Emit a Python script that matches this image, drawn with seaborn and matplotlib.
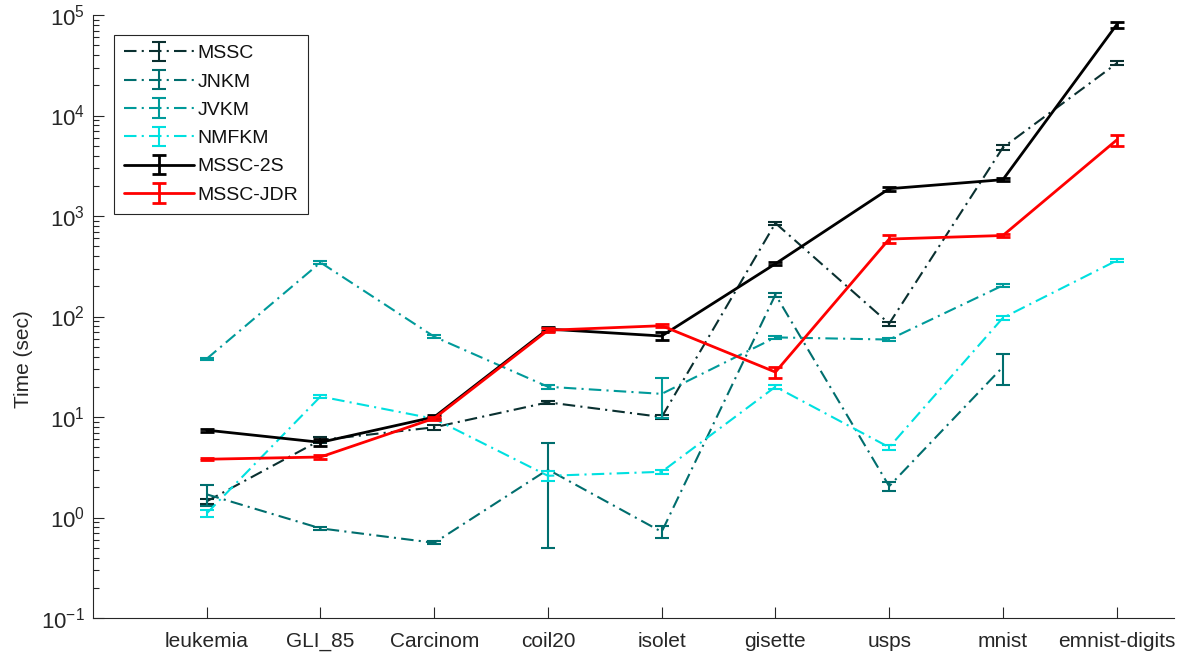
import numpy as np
import pandas as pd
import matplotlib
matplotlib.use("Agg")
import matplotlib.pyplot as plt
import seaborn as sns
from matplotlib.ticker import (LogLocator, FixedLocator, NullFormatter,
                               LogFormatterSciNotation)

# Datasets on the x axis
datasets = ["leukemia", "GLI_85", "Carcinom", "coil20", "isolet",
            "gisette", "usps", "mnist", "emnist-digits"]

# Mean running time (sec) per method; NaN = not run on that dataset
mssc = [1.45, 5.9, 7.9, 14.0, 10.0, 850.0, 85.0, 4800.0, 33000.0]
jnkm = [1.7, 0.78, 0.56, 3.0, 0.72, 165.0, 2.05, 31.5, np.nan]
jvkm = [38.0, 345.0, 63.0, 20.0, 17.0, 62.0, 59.0, 204.0, np.nan]
nmfkm = [1.1, 16.0, 9.6, 2.6, 2.85, 20.0, 5.0, 97.0, 360.0]
mssc_2s = [7.4, 5.6, 10.0, 75.0, 64.0, 335.0, 1870.0, 2300.0, 80000.0]
mssc_jdr = [3.8, 4.0, 9.7, 73.0, 81.0, 28.0, 590.0, 640.0, 5700.0]

# Standard deviations (sec)
mssc_err = [0.08, 0.4, 0.4, 0.5, 0.4, 30.0, 4.0, 250.0, 1500.0]
jnkm_err = [0.4, 0.03, 0.02, 2.5, 0.1, 8.0, 0.2, 10.5, np.nan]
jvkm_err = [1.0, 12.0, 2.0, 1.0, 7.2, 2.5, 2.0, 8.0, np.nan]
nmfkm_err = [0.08, 0.5, 0.3, 0.3, 0.12, 1.0, 0.25, 4.0, 10.0]
mssc_2s_err = [0.25, 0.5, 0.4, 4.0, 6.0, 12.0, 80.0, 80.0, 5000.0]
mssc_jdr_err = [0.1, 0.15, 0.3, 3.0, 3.0, 3.5, 50.0, 20.0, 700.0]

methods = ["MSSC", "JNKM", "JVKM", "NMFKM", "MSSC-2S", "MSSC-JDR"]
values = [mssc, jnkm, jvkm, nmfkm, mssc_2s, mssc_jdr]
errors = [mssc_err, jnkm_err, jvkm_err, nmfkm_err, mssc_2s_err, mssc_jdr_err]

# Decades shown on the time axis
decades = [1e-1, 1e0, 1e1, 1e2, 1e3, 1e4, 1e5]

colors = ["#0a3030", "#006e6e", "#009a9a", "#00e0e0", "#000000", "#ff0000"]
dashdot = (0, (6, 2.5, 1, 2.5))
styles = [dashdot, dashdot, dashdot, dashdot, "-", "-"]
widths = [1.5, 1.5, 1.5, 1.5, 2.0, 2.0]

xpos = np.arange(1, len(datasets) + 1)
frames = []
for name, v, e in zip(methods, values, errors):
    frames.append(pd.DataFrame({"method": name, "x": xpos,
                                "time": v, "err": e}))
df = pd.concat(frames, ignore_index=True)

sns.set_theme(style="ticks")
plt.rcParams["font.family"] = ["Liberation Sans", "DejaVu Sans"]
plt.rcParams["mathtext.default"] = "regular"

fig = plt.figure(figsize=(11.88, 6.59), dpi=100)
ax = fig.add_axes([0.0783, 0.0622, 0.9095, 0.915])
ax.set_yscale("log")

handles = []
for i, name in enumerate(methods):
    sub = df[df["method"] == name].dropna()
    sns.lineplot(data=sub, x="x", y="time", ax=ax, color=colors[i],
                 linestyle=styles[i], linewidth=widths[i], legend=False,
                 zorder=2 + i)
    ax.errorbar(sub["x"], sub["time"], yerr=sub["err"], fmt="none",
                ecolor=colors[i], elinewidth=widths[i], capsize=5,
                capthick=widths[i], zorder=2 + i)
    # legend proxy carrying both the line style and the error bar
    h = ax.errorbar([np.nan], [np.nan], yerr=[1.0], color=colors[i],
                    linestyle=styles[i], linewidth=widths[i],
                    elinewidth=widths[i], capsize=5, capthick=widths[i],
                    label=name)
    handles.append(h)

ax.set_xlim(0, 9.5)
ax.set_ylim(decades[0], decades[-1])
ax.xaxis.set_major_locator(FixedLocator(xpos))
ax.set_xticklabels(datasets)
ax.yaxis.set_major_locator(FixedLocator(decades))
ax.yaxis.set_major_formatter(LogFormatterSciNotation())
ax.yaxis.set_minor_locator(LogLocator(base=10, subs=np.arange(2, 10),
                                      numticks=20))
ax.yaxis.set_minor_formatter(NullFormatter())

ax.set_xlabel("")
ax.xaxis.label.set_visible(False)
ax.set_ylabel("Time (sec)", fontsize=15, color="#262626")
ax.yaxis.set_label_coords(-0.056, 0.43)

ax.tick_params(axis="both", which="major", direction="in", length=8,
               width=0.8, color="#262626", labelcolor="#262626",
               labelsize=15)
ax.tick_params(axis="y", which="minor", direction="in", length=4.5,
               width=0.8, color="#262626")
ax.tick_params(axis="y", which="major", labelsize=16, pad=6)
ax.tick_params(axis="x", which="major", pad=10)

for side in ("top", "right"):
    ax.spines[side].set_visible(False)
for side in ("left", "bottom"):
    ax.spines[side].set_color("#262626")
    ax.spines[side].set_linewidth(0.8)

leg = ax.legend(handles=handles, labels=methods, loc="upper left",
                bbox_to_anchor=(0.0194, 0.967), fontsize=14, frameon=True,
                fancybox=False, edgecolor="#262626", framealpha=1,
                handlelength=3.6, labelspacing=0.55, borderpad=0.5,
                handletextpad=0.2, borderaxespad=0)
leg.get_frame().set_linewidth(0.8)
for t in leg.get_texts():
    t.set_color("#111111")

fig.savefig("out.png", dpi=100)
